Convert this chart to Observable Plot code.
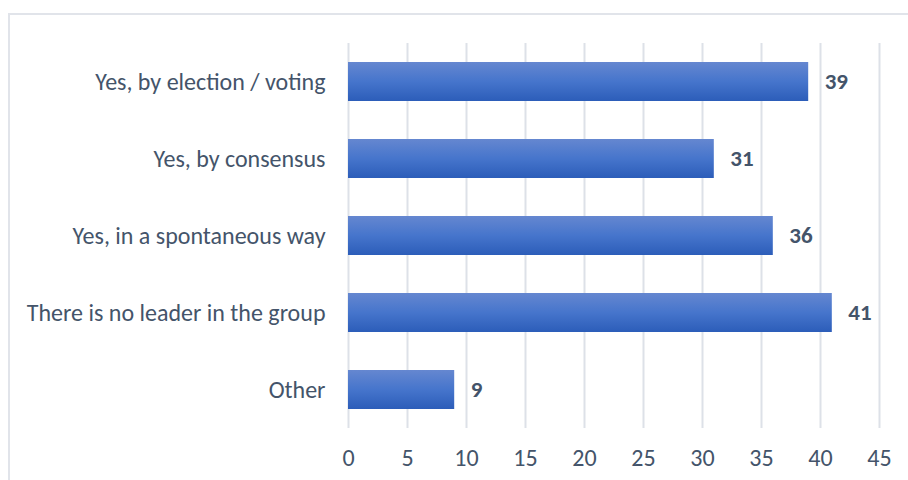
<!DOCTYPE html>
<html>
<head>
<meta charset="utf-8">
<script src="https://cdn.jsdelivr.net/npm/d3@7"></script>
<script src="https://cdn.jsdelivr.net/npm/@observablehq/plot@0.6"></script>
<style>
  html, body { margin: 0; padding: 0; background: #fff; overflow: hidden; }
  #wrap { position: relative; width: 908px; height: 480px; }
  #frame { position: absolute; left: 8px; top: 13px; width: 1000px; height: 1000px; border: 2px solid #e1e4ea; box-sizing: border-box; pointer-events: none; }
  #chart { position: absolute; left: 0; top: 0; }
</style>
</head>
<body>
<div id="wrap"><div id="frame"></div><div id="chart"></div></div>
<script>
const categories = ["Yes, by election / voting", "Yes, by consensus", "Yes, in a spontaneous way", "There is no leader in the group", "Other"];
const values = [39, 31, 36, 41, 9];
const xTicks = [0, 5, 10, 15, 20, 25, 30, 35, 40, 45];

const data = categories.map((c, i) => ({category: c, value: values[i]}));
const font = "Carlito, Calibri, 'Noto Sans', 'Open Sans', sans-serif";

const chart = Plot.plot({
  width: 908,
  height: 480,
  marginLeft: 348,
  marginRight: 29,
  marginTop: 43,
  marginBottom: 52,
  style: {fontFamily: font, fontSize: "24px", color: "#44546a", background: "transparent"},
  x: {domain: [0, 45], ticks: xTicks, label: null},
  y: {domain: categories, label: null, paddingInner: 0.5, paddingOuter: 0.25},
  marks: [
    Plot.gridX(xTicks, {stroke: "#dde1e8", strokeOpacity: 1, strokeWidth: 2}),
    Plot.barX(data, {x: "value", y: "category", fill: "url(#barGrad)"}),
    Plot.text(data, {x: "value", y: "category", text: d => String(d.value), textAnchor: "start", dx: 16, fontWeight: "bold", fontSize: 23, fill: "#44546a"}),
    Plot.axisX(xTicks, {tickSize: 0, tickPadding: 20, fontSize: 24, fill: "#44546a"}),
    Plot.axisY({tickSize: 0, tickPadding: 23, fontSize: 24, fill: "#44546a"})
  ]
});

const ns = "http://www.w3.org/2000/svg";
const defs = document.createElementNS(ns, "defs");
const grad = document.createElementNS(ns, "linearGradient");
grad.setAttribute("id", "barGrad");
grad.setAttribute("x1", "0"); grad.setAttribute("y1", "0");
grad.setAttribute("x2", "0"); grad.setAttribute("y2", "1");
[["0%", "#6587d0"], ["50%", "#4675cc"], ["100%", "#2c5db9"]].forEach(([o, c]) => {
  const s = document.createElementNS(ns, "stop");
  s.setAttribute("offset", o); s.setAttribute("stop-color", c);
  grad.appendChild(s);
});
defs.appendChild(grad);
chart.insertBefore(defs, chart.firstChild);
document.getElementById("chart").appendChild(chart);
</script>
</body>
</html>
